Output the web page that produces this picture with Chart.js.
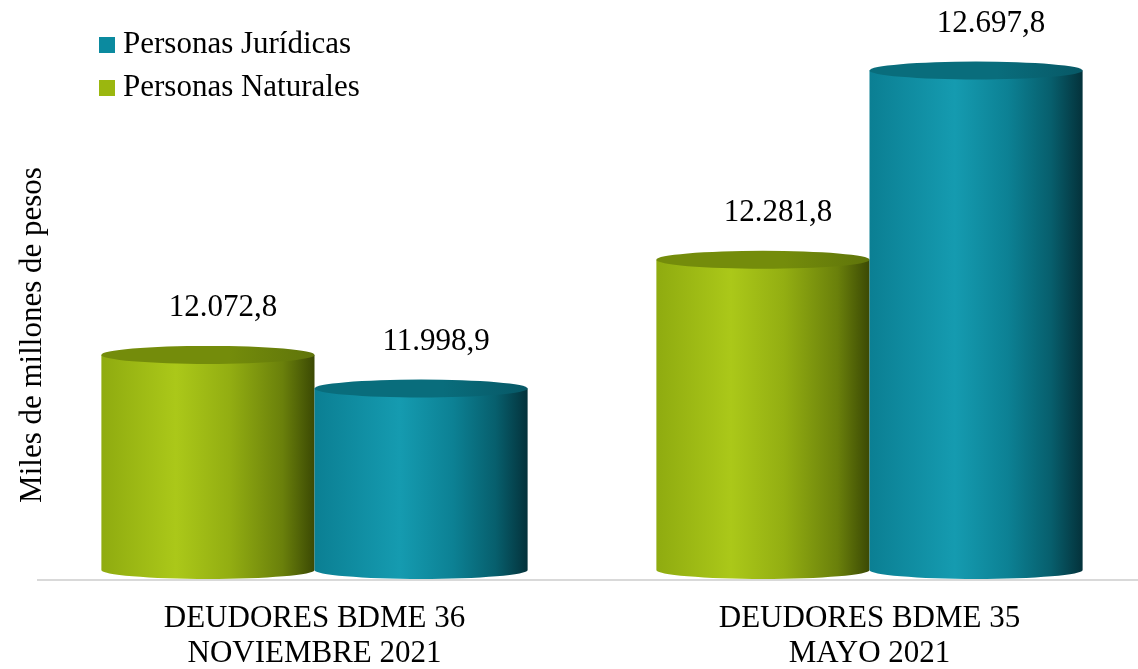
<!DOCTYPE html>
<html>
<head>
<meta charset="utf-8">
<script src="https://cdn.jsdelivr.net/npm/chart.js@4/dist/chart.umd.min.js"></script>
<style>
  html, body { margin: 0; padding: 0; background: #fff; overflow: hidden; }
  /* el gráfico original queda recortado a la derecha */
  #canvas-container { width: 1147px; height: 669px; }
</style>
</head>
<body>
<div id="canvas-container"><canvas id="myChart"></canvas></div>
<script>
// Datos del gráfico
const categorias = [['DEUDORES BDME 36', 'NOVIEMBRE 2021'], ['DEUDORES BDME 35', 'MAYO 2021']];
const naturales = [12072.8, 12281.8];
const juridicas = [11998.9, 12697.8];
const ejeMin = 11600;
const ejeMax = 12800;
const tituloEje = 'Miles de millones de pesos';

const fuente = '"Liberation Serif", "Times New Roman", serif';

// colores de cada cilindro (verde = naturales, azul = jurídicas)
const paletas = [
    { base: '#9bb70f', tapa: '#748c0b', tapaOscura: '#5f740a',
      cuerpo: [[0, '#8fab10'], [0.35, '#abc819'], [0.6, '#93ae12'], [0.85, '#6a800b'], [1, '#3b4904']] },
    { base: '#0b8a9f', tapa: '#096d7c', tapaOscura: '#075866',
      cuerpo: [[0, '#0b7f93'], [0.4, '#159bb0'], [0.65, '#0c8194'], [0.85, '#075f6d'], [1, '#04323b']] }
];

function formatoCO(v) {
    const partes = v.toFixed(1).split('.');
    const entero = partes[0].replace(/\B(?=(\d{3})+(?!\d))/g, '.');
    return entero + ',' + partes[1];
}

function dibujarCilindro(ctx, x, y, base, width, pal) {
    const rx = width / 2;
    const ry = 9;
    const izq = x - rx, der = x + rx;

    // cuerpo
    const grad = ctx.createLinearGradient(izq, 0, der, 0);
    pal.cuerpo.forEach(s => grad.addColorStop(s[0], s[1]));
    ctx.beginPath();
    ctx.moveTo(izq, y);
    ctx.lineTo(izq, base);
    ctx.ellipse(x, base, rx, ry, 0, Math.PI, 0, true);
    ctx.lineTo(der, y);
    ctx.closePath();
    ctx.fillStyle = grad;
    ctx.fill();

    // tapa superior
    const gTapa = ctx.createLinearGradient(izq, 0, der, 0);
    gTapa.addColorStop(0, pal.tapa);
    gTapa.addColorStop(0.6, pal.tapa);
    gTapa.addColorStop(1, pal.tapaOscura);
    ctx.beginPath();
    ctx.ellipse(x, y, rx, ry, 0, 0, Math.PI * 2);
    ctx.fillStyle = gTapa;
    ctx.fill();
}

const cilindros = {
    id: 'cilindros',
    beforeDatasetsDraw(chart) {
        const ctx = chart.ctx;
        const piso = chart.scales.y.getPixelForValue(ejeMin);
        ctx.save();
        chart.data.datasets.forEach((ds, i) => {
            const meta = chart.getDatasetMeta(i);
            meta.data.forEach(bar => {
                const p = bar.getProps(['x', 'y', 'width'], true);
                dibujarCilindro(ctx, p.x, p.y, piso, p.width, paletas[i]);
            });
        });
        ctx.restore();
        return false; // no dibujar las barras planas
    },
    afterDraw(chart) {
        const ctx = chart.ctx;
        const area = chart.chartArea;
        ctx.save();

        // línea base
        ctx.strokeStyle = '#d9d9d9';
        ctx.lineWidth = 2;
        ctx.beginPath();
        ctx.moveTo(37, area.bottom + 10);
        ctx.lineTo(chart.width, area.bottom + 10);
        ctx.stroke();

        // etiquetas de valores
        ctx.fillStyle = '#000';
        ctx.font = '31px ' + fuente;
        ctx.textAlign = 'center';
        ctx.textBaseline = 'alphabetic';
        chart.data.datasets.forEach((ds, i) => {
            chart.getDatasetMeta(i).data.forEach((bar, j) => {
                ctx.fillText(formatoCO(ds.data[j]), bar.x + 15, bar.y - 39);
            });
        });

        // título del eje Y
        ctx.save();
        ctx.translate(41, 335);
        ctx.rotate(-Math.PI / 2);
        ctx.fillText(tituloEje, 0, 0);
        ctx.restore();

        // leyenda (jurídicas primero)
        const orden = [1, 0];
        orden.forEach((i, k) => {
            const yl = 53 + k * 43;
            ctx.fillStyle = paletas[i].base;
            ctx.fillRect(99, yl - 16, 16, 16);
            ctx.fillStyle = '#000';
            ctx.textAlign = 'left';
            ctx.fillText(chart.data.datasets[i].label, 123, yl);
        });
        ctx.restore();
    }
};

const ctx = document.getElementById('myChart').getContext('2d');
const myChart = new Chart(ctx, {
    type: 'bar',
    data: {
        labels: categorias,
        datasets: [
            { label: 'Personas Naturales', data: naturales, backgroundColor: paletas[0].base },
            { label: 'Personas Jurídicas', data: juridicas, backgroundColor: paletas[1].base }
        ]
    },
    options: {
        responsive: true,
        maintainAspectRatio: false,
        animation: false,
        categoryPercentage: 0.768,
        barPercentage: 1,
        layout: { padding: { top: 24, left: 37, right: 0, bottom: 0 } },
        scales: {
            x: {
                grid: { display: false, drawTicks: false },
                border: { display: false },
                afterFit(scale) { scale.height = 99; },
                ticks: {
                    color: '#000',
                    padding: 31,
                    font: { family: fuente, size: 31, lineHeight: 1.13 }
                }
            },
            y: {
                display: false,
                min: ejeMin,
                max: ejeMax
            }
        },
        plugins: {
            legend: { display: false },
            tooltip: { enabled: false }
        }
    },
    plugins: [cilindros]
});
</script>
</body>
</html>
